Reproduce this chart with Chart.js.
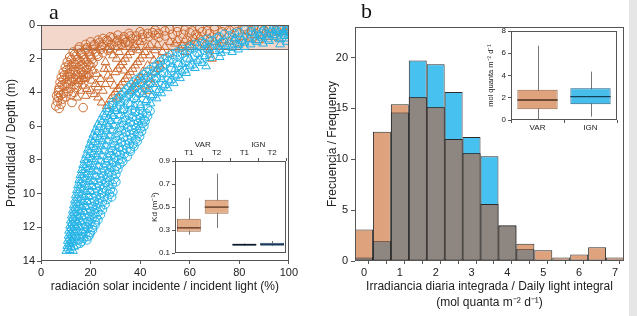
<!DOCTYPE html>
<html><head><meta charset="utf-8">
<script src="https://cdn.jsdelivr.net/npm/chart.js@4/dist/chart.umd.min.js"></script>
<style>
html,body{margin:0;padding:0;background:#fff;width:637px;height:316px;overflow:hidden;}
canvas{position:absolute;}
.lbl{position:absolute;font-family:'Liberation Serif','DejaVu Serif',serif;font-size:22px;color:#111;line-height:1;}
</style></head><body>
<canvas id="ca" width="300" height="316" style="left:0;top:0"></canvas>
<canvas id="cai" width="147" height="122" style="left:145px;top:138px"></canvas>
<canvas id="cb" width="310" height="316" style="left:320px;top:0"></canvas>
<canvas id="cbi" width="140" height="112" style="left:482px;top:24px"></canvas>
<div class="lbl" style="left:49px;top:1px">a</div>
<div class="lbl" style="left:361px;top:0px">b</div>
<div style="position:absolute;left:629px;top:0;width:8px;height:316px;background:#e6e6e6"></div>
<script>
// ---------- Panel a: light (%) vs depth (m) ----------
const bandDepth = 1.45;
const ignTri = [[10.2,13.4],[11.6,13.35],[12.9,13.4],[10.6,13.1],[11.9,13.0],[13.4,13.15],[10.8,12.8],[12.3,12.75],[14.1,12.85],[11.1,12.5],[12.7,12.45],[14.6,12.55],[11.3,12.2],[13.1,12.15],[15.2,12.25],[11.7,11.9],[13.5,11.85],[15.7,11.95],[12.0,11.6],[13.9,11.55],[16.3,11.65],[12.4,11.3],[14.5,11.25],[16.9,11.35],[12.8,11.0],[14.9,10.95],[17.5,11.05],[13.2,10.7],[15.4,10.65],[18.1,10.75],[13.7,10.4],[15.9,10.35],[18.7,10.45],[14.0,10.1],[16.4,10.05],[19.3,10.15],[14.5,9.8],[16.9,9.75],[20.0,9.85],[14.9,9.5],[17.5,9.45],[20.6,9.55],[15.4,9.2],[18.0,9.15],[21.1,9.25],[15.9,8.9],[18.6,8.85],[21.9,8.95],[16.4,8.6],[19.2,8.55],[22.4,8.65],[17.0,8.3],[19.7,8.25],[23.1,8.35],[17.5,8.0],[20.4,7.95],[23.9,8.05],[18.2,7.7],[21.1,7.65],[24.6,7.75],[18.9,7.4],[21.8,7.35],[25.4,7.45],[19.6,7.1],[22.6,7.05],[26.1,7.15],[20.3,6.8],[23.4,6.75],[26.9,6.85],[21.1,6.5],[24.3,6.45],[27.7,6.55],[22.0,6.2],[25.1,6.15],[28.6,6.25],[22.9,5.9],[26.1,5.85],[29.5,5.95],[24.0,5.6],[27.1,5.55],[30.6,5.65],[25.1,5.3],[28.3,5.25],[31.7,5.35],[26.5,5.0],[29.6,4.95],[33.0,5.05],
[36.0,4.7],[40.1,4.75],[44.2,4.65],[38.5,4.4],[42.6,4.45],[46.6,4.35],[41.1,4.1],[45.1,4.15],[48.6,4.05],[43.6,3.8],[47.6,3.85],[51.1,3.75],[46.1,3.5],[50.1,3.55],[53.6,3.45],[48.6,3.2],[52.6,3.25],[56.1,3.15],[51.1,2.9],[55.1,2.95],[58.6,2.85],[54.1,2.6],[58.1,2.65],[62.1,2.55],[66.6,2.45],[57.1,2.3],[61.1,2.35],[65.1,2.25],[60.1,2.0],[64.1,2.05],[68.1,1.95],[72.1,1.9],[63.6,1.7],[68.1,1.75],[72.6,1.65],[77.1,1.6],[67.1,1.4],[72.1,1.45],[77.1,1.35],[82.1,1.3],[72.1,1.1],[77.1,1.15],[82.1,1.05],[87.1,1.0],[92.1,0.95],[78.1,0.8],[84.1,0.85],[89.1,0.75],[94.1,0.7],[98.5,0.65],[86.1,0.5],[91.1,0.55],[95.6,0.45],[99.0,0.4],[93.1,0.3],[97.1,0.25],[99.5,0.2],[96.5,1.15],[99.3,1.0],[99.0,0.8],
[10.9,13.25],[12.2,13.2],[11.3,12.95],[12.8,12.9],[11.5,12.65],[13.3,12.6],[11.9,12.35],[13.8,12.3],[12.2,12.05],[14.4,12.0],[12.6,11.75],[14.8,11.7],[13.0,11.45],[15.4,11.4],[13.5,11.15],[16.0,11.1],[13.9,10.85],[16.5,10.8],[14.4,10.55],[17.1,10.5],[14.8,10.25],[17.6,10.2],[15.2,9.95],[18.2,9.9],[15.8,9.65],[18.8,9.6],[16.2,9.35],[19.4,9.3],[16.8,9.05],[20.0,9.0],[17.3,8.75],[20.5,8.7],[17.9,8.45],[21.2,8.4],[18.4,8.15],[21.8,8.1],[19.1,7.85],[22.5,7.8],[19.8,7.55],[23.3,7.5],[20.4,7.25],[24.0,7.2],[21.1,6.95],[24.7,6.9],[21.9,6.65],[25.6,6.6],[22.7,6.35],[26.3,6.3],[23.5,6.05],[27.2,6.0],[24.6,5.75],[28.1,5.7],[25.6,5.45],[29.1,5.4],[26.8,5.15],[30.2,5.1],
[38.0,4.85],[42.3,4.55],[44.6,4.25],[46.9,4.0],[49.3,3.65],[51.8,3.35],[54.3,3.05],[56.8,2.75],[60.1,2.45],[63.1,2.15],[66.1,1.85],[70.3,1.55],[74.6,1.5],[79.6,1.45],[74.6,1.25],[79.6,1.2],[84.6,1.15],[89.6,1.1],[81.1,0.95],[86.6,0.9],[91.6,0.85],[96.3,0.85],[88.6,0.65],[93.6,0.6],[97.5,0.5],[95.1,0.35],[99.0,0.3]];
const ignCirc = [[14.5,13.0],[15.8,12.95],[15.5,12.7],[17.2,12.65],[18.5,12.75],[16.3,12.4],[18.0,12.35],[19.6,12.45],[17.0,12.1],[19.0,12.05],[20.8,12.15],[17.6,11.8],[19.8,11.75],[21.8,11.85],[18.3,11.5],[20.6,11.45],[23.0,11.55],[18.9,11.2],[21.4,11.15],[24.0,11.25],[19.6,10.9],[22.2,10.85],[24.8,10.95],[20.3,10.6],[23.0,10.55],[25.8,10.65],[21.0,10.3],[23.8,10.25],[26.7,10.35],[21.7,10.0],[24.6,9.95],[27.6,10.05],[29.0,9.9],[22.4,9.7],[25.3,9.65],[28.0,9.75],[23.0,9.4],[26.0,9.35],[28.8,9.45],[30.2,9.3],[23.8,9.1],[26.7,9.05],[29.5,9.15],[24.5,8.8],[27.4,8.75],[30.2,8.85],[25.3,8.5],[28.2,8.45],[31.0,8.55],[26.0,8.2],[29.0,8.15],[31.8,8.25],[33.0,8.1],[26.8,7.9],[29.8,7.85],[32.6,7.95],[27.6,7.6],[30.6,7.55],[33.6,7.65],[36.0,7.5],[28.4,7.3],[31.5,7.25],[34.6,7.35],[37.5,7.2],[29.2,7.0],[32.4,6.95],[35.6,7.05],[38.8,6.9],[30.0,6.7],[33.3,6.65],[36.6,6.75],[39.8,6.6],[30.8,6.4],[34.2,6.35],[37.5,6.45],[40.6,6.3],[31.8,6.1],[35.0,6.05],[38.4,6.15],[41.5,6.0],[32.8,5.8],[36.0,5.75],[39.2,5.85],[42.0,5.7],[33.8,5.5],[37.0,5.45],[40.0,5.55],[43.0,5.4],[35.0,5.2],[38.0,5.15],[41.0,5.25],[44.0,5.1],
[27.5,4.9],[30.5,4.85],[33.5,4.95],[29.0,4.6],[32.0,4.55],[35.0,4.65],[31.5,4.3],[34.5,4.25],[37.5,4.35],[33.5,4.0],[36.5,3.95],[39.5,4.05],[35.5,3.7],[38.5,3.65],[42.0,3.75],[37.5,3.4],[40.5,3.35],[44.0,3.45],[40.0,3.1],[43.0,3.05],[46.5,3.15],[42.5,2.8],[46.0,2.75],[49.5,2.85],[45.5,2.5],[49.0,2.45],[52.5,2.55],[48.0,2.2],[51.5,2.15],[55.0,2.25],[51.0,1.9],[55.0,1.85],[59.0,1.95],[55.0,1.6],[59.0,1.55],[63.0,1.65],[60.0,1.3],[64.0,1.25],[68.0,1.35],[65.0,1.0],[69.0,0.95],[73.0,1.05],[77.0,0.9],[72.0,0.7],[76.0,0.65],[80.0,0.75],[80.0,0.45],[84.5,0.4],[89.0,0.5],[88.0,0.2],[92.0,0.15],[96.0,0.25],[99.5,0.1],
[48.5,3.0],[46.0,3.3],[43.5,3.6],[41.0,3.9],[38.5,4.2],[52.5,2.7],[55.5,2.4],[58.5,2.1],[62.0,1.8],[66.0,1.5],[70.5,1.2],[81.0,0.9],[85.0,0.6],[93.0,0.45],[95.0,0.65],[97.5,0.55],
[16.3,12.85],[16.7,12.55],[19.0,12.55],[17.3,12.25],[19.9,12.3],[18.2,11.95],[20.8,12.0],[19.0,11.65],[21.9,11.7],[19.6,11.35],[22.3,11.4],[20.1,11.05],[23.0,11.1],[21.0,10.75],[24.0,10.8],[21.6,10.45],[24.8,10.5],[22.3,10.15],[25.6,10.2],[28.5,10.2],[23.0,9.85],[26.5,9.8],[23.7,9.55],[27.1,9.5],[24.4,9.25],[27.8,9.2],[25.2,8.95],[28.6,8.9],[25.8,8.65],[29.7,8.6],[26.6,8.35],[30.4,8.4],[27.3,8.05],[31.2,8.0],[28.2,7.75],[31.9,7.7],[34.8,7.8],[29.0,7.45],[33.0,7.4],[36.1,7.35],[29.8,7.15],[34.0,7.1],[37.2,7.05],[30.7,6.85],[34.9,6.8],[38.2,6.8],[31.5,6.55],[35.9,6.5],[39.2,6.45],[32.4,6.25],[36.6,6.2],[40.0,6.15],[33.4,5.95],[37.5,5.9],[40.8,5.85],[34.3,5.65],[38.5,5.6],[41.5,5.6],[35.5,5.35],[39.5,5.3],[42.5,5.25],[36.5,5.05],[40.0,5.0],[43.0,4.95],
[29.0,4.75],[32.0,4.75],[30.5,4.45],[33.5,4.4],[32.5,4.15],[35.5,4.1],[34.5,3.85],[37.5,3.8],[36.5,3.55],[40.0,3.5],[38.5,3.25],[42.0,3.2],[41.5,2.95],[44.8,2.9],[44.0,2.65],[47.5,2.6],[46.8,2.35],[50.2,2.3],[49.5,2.05],[53.2,2.0],[53.0,1.75],[57.0,1.7],[57.0,1.45],[61.0,1.4],[62.0,1.15],[66.0,1.1],[67.0,0.85],[71.0,0.8],[74.0,0.55],[78.0,0.5],[82.5,0.3],[86.5,0.3],[90.0,0.35],[94.0,0.1]];
const varCirc = [[6.0,4.8],[6.6,4.55],[7.3,4.95],[8.1,4.7],[7.0,4.3],[8.7,4.4],[17.0,4.9],[12.5,4.6],
[7.0,4.0],[9.1,4.05],[11.0,3.95],[13.4,4.0],[7.4,3.7],[9.6,3.65],[12.0,3.75],[14.5,3.7],[7.7,3.4],[10.1,3.45],[12.5,3.35],[15.1,3.4],
[8.2,3.1],[10.6,3.05],[13.0,3.15],[15.5,3.1],[18.0,3.05],[9.0,2.8],[11.5,2.85],[14.0,2.75],[16.5,2.8],[19.0,2.85],
[9.8,2.5],[12.3,2.45],[15.0,2.55],[17.5,2.5],[20.1,2.45],[10.6,2.2],[13.1,2.25],[15.8,2.15],[18.5,2.2],[21.0,2.25],
[11.6,1.9],[14.1,1.85],[17.0,1.95],[20.0,1.9],[23.0,1.85],[13.0,1.6],[16.0,1.65],[19.0,1.55],[22.0,1.6],[25.0,1.65],
[15.5,1.3],[18.5,1.35],[21.5,1.25],[24.5,1.3],[27.5,1.35],[31.0,1.25],[20.0,1.0],[23.5,1.05],[27.0,0.95],[30.5,1.0],[34.0,1.05],
[25.0,0.8],[29.0,0.75],[33.0,0.85],[37.0,0.8],[41.0,0.75],[31.0,0.6],[36.0,0.65],[41.0,0.55],[46.0,0.6],[50.0,0.65],
[40.0,0.4],[45.0,0.45],[50.0,0.35],[55.0,0.4],[60.0,0.45],[65.0,0.4],[52.0,0.25],[58.0,0.3],[64.0,0.2],[70.0,0.25],[76.0,0.3],[82.0,0.25],
[70.0,0.1],[78.0,0.15],[86.0,0.05],[92.0,0.1],[97.0,0.15],[100,0.05],
[6.3,4.2],[8.0,4.15],[10.0,4.25],[12.2,4.15],[7.2,3.85],[8.5,3.55],[11.0,3.55],[13.5,3.55],[9.0,3.25],[11.5,3.25],[14.0,3.25],[16.5,3.25],[9.5,2.95],[12.0,2.95],[14.5,2.95],[17.2,2.95],[10.5,2.65],[13.2,2.65],[15.8,2.65],[18.4,2.65],[11.3,2.35],[14.0,2.35],[16.6,2.35],[19.3,2.35],[12.2,2.05],[14.8,2.05],[17.6,2.05],[20.5,2.05],[13.5,1.75],[16.5,1.75],[19.5,1.75],[22.5,1.75],[15.0,1.45],[18.0,1.45],[21.0,1.45],[24.0,1.45],[27.0,1.5],[18.0,1.15],[21.5,1.15],[25.0,1.15],[28.5,1.15],[32.5,1.15],[23.0,0.9],[26.5,0.9],[31.0,0.9],[35.0,0.95],[39.0,0.9],[28.0,0.7],[33.5,0.7],[38.5,0.65],[43.5,0.7],[47.5,0.75],[35.5,0.5],[43.0,0.5],[47.5,0.5],[53.0,0.55],[57.5,0.55],[62.5,0.55],[68.0,0.5],[46.0,0.3],[55.0,0.15],[61.0,0.35],[67.0,0.35],[73.0,0.4],[79.0,0.4],[85.0,0.35],[90.0,0.3],[95.0,0.3],[74.0,0.05],[82.0,0.1],[89.0,0.2],[99.0,0.25]];
const varTri = [[26.5,4.8],[23.0,4.3],[20.0,3.9],[17.0,3.6],[15.0,3.3],[22.0,3.5],[25.0,3.9],[19.0,3.0],[24.0,3.2],[21.0,2.7],[27.0,3.0],[18.0,4.2],[14.5,4.3],
[28.0,4.4],[30.0,4.0],[32.0,3.6],[34.0,3.2],[36.0,2.8],[38.0,2.4],[40.0,2.0],[42.0,1.6],[30.0,2.8],[32.0,2.4],[34.0,2.0],[36.0,1.6],[38.0,1.2],[28.0,3.2],[26.0,2.2],[29.0,1.8],[33.0,1.3],[40.0,1.0],[44.0,1.2],[36.0,3.9],[38.0,3.5],[40.0,3.1],[31.0,4.3],[33.5,2.7],[29.5,3.6],
[42.0,3.6],[44.0,3.2],[46.0,2.8],[48.0,2.4],[41.0,4.1],[45.5,2.1],
[46.0,1.5],[50.0,1.3],[54.0,1.1],[58.0,0.9],[52.0,1.7],[48.0,2.0],[56.0,1.4],[60.0,1.2],[62.0,0.8],[69.0,2.0],
[66.0,1.2],[70.0,1.0],[74.0,0.9],[78.0,0.8],[82.0,0.7],[86.0,0.6],[90.0,0.5],[94.0,0.45],[98.0,0.4],[100,0.3],[72.0,1.3],[80.0,1.1],[88,0.9],[96,0.8],
[24.5,4.6],[21.5,4.1],[18.5,3.8],[16.0,3.9],[20.5,3.3],[23.0,3.7],[26.0,3.5],[22.5,2.9],[25.5,2.6],[17.5,3.2],[29.0,4.2],[31.0,3.8],[33.0,3.4],[35.0,3.0],[37.0,2.6],[39.0,2.2],[41.0,1.8],[31.0,2.6],[33.0,2.2],[35.0,1.8],[37.0,1.4],[27.0,2.6],[30.5,2.0],[28.0,1.5],[31.5,1.6],[35.5,1.1],[39.0,1.5],[42.5,1.3],[37.0,3.7],[39.0,3.3],[41.0,2.8],[43.0,2.4],[43.0,3.9],[45.0,3.5],[47.0,2.6],[44.0,1.8],[47.0,1.2],[49.0,1.6],[52.0,1.0],[55.0,0.9],[57.0,1.2],[60.0,1.0],[63.0,1.05],[64.0,0.7],[68.0,0.8],[72.0,0.75],[76.0,1.0],[84.0,0.8],[92.0,0.7],[68.0,1.5],[58.0,1.6]];

// inset a: Kd box plots
const kdLabels = ['T1','T2','T1','T2'];
const kdGroups = ['VAR','IGN'];
const kdMin = [0.26, 0.32, 0.165, 0.165];
const kdQ1  = [0.286, 0.442, 0.164, 0.164];
const kdMed = [0.32, 0.50, 0.175, 0.177];
const kdQ3  = [0.40, 0.564, 0.183, 0.19];
const kdMax = [0.58, 0.79, 0.183, 0.206];

// ---------- Panel b: histogram ----------
const binCenters  = [0,0.5,1,1.5,2,2.5,3,3.5,4,4.5,5,5.5,6,6.5,7];
const varFreq     = [3.1,12.7,15.4,16.1,15.1,12.0,10.6,5.6,3.5,1.7,1.05,0.35,0.65,1.35,0.35];
const ignFreq     = [0.35,1.95,14.6,19.7,19.35,16.6,12.2,10.3,3.5,1.15,0,0,0,0,0];
const overlapFreq = [0.35,1.95,14.6,16.1,15.1,12.0,10.6,5.6,3.5,1.15,0,0,0,0,0];
const freqTicks   = [0,5,10,15,20];

// inset b: DLI box plots
const dliLabels = ['VAR','IGN'];
const dliMin = [0, 0.3];
const dliQ1  = [0.96, 1.41];
const dliMed = [1.8, 2.1];
const dliQ3  = [2.73, 2.85];
const dliMax = [6.67, 4.35];

// ---------- styles ----------
const FONT = "'Liberation Sans', Arial, Helvetica, sans-serif";
Chart.defaults.font.family = FONT;
Chart.defaults.color = '#222';
const ORANGE_PT = '#cd6b30', CYAN_PT = '#25b3e6';
const AXIS = '#555';

const framePlugin = {
  id:'frame',
  afterDatasetsDraw(chart){
    const a = chart.chartArea, ctx = chart.ctx;
    ctx.save(); ctx.strokeStyle = AXIS; ctx.lineWidth = 1;
    ctx.strokeRect(Math.round(a.left)+0.5, Math.round(a.top)+0.5, Math.round(a.right-a.left)-1, Math.round(a.bottom-a.top)-1);
    ctx.restore();
  }
};
const bandPlugin = {
  id:'band',
  beforeDatasetsDraw(chart){
    const a = chart.chartArea, ctx = chart.ctx, y = chart.scales.y;
    const y0 = y.getPixelForValue(0), y1 = y.getPixelForValue(bandDepth);
    ctx.save();
    ctx.fillStyle = '#f3d7cb';
    ctx.fillRect(a.left, y0, a.right-a.left, y1-y0);
    ctx.strokeStyle = '#7d6f6a'; ctx.lineWidth = 1;
    ctx.beginPath(); ctx.moveTo(a.left, Math.round(y1)+0.5); ctx.lineTo(a.right, Math.round(y1)+0.5); ctx.stroke();
    ctx.restore();
  }
};
function boxPlugin(mins, meds, maxs, whiskerColor, medColor){
  return {
    id:'boxw',
    beforeDatasetsDraw(chart){
      const meta = chart.getDatasetMeta(0), y = chart.scales.y, ctx = chart.ctx;
      ctx.save(); ctx.strokeStyle = whiskerColor; ctx.lineWidth = 1;
      meta.data.forEach((el,i)=>{
        const x = Math.round(el.x)+0.5;
        ctx.beginPath(); ctx.moveTo(x, y.getPixelForValue(mins[i])); ctx.lineTo(x, y.getPixelForValue(maxs[i])); ctx.stroke();
      });
      ctx.restore();
    },
    afterDatasetsDraw(chart){
      const meta = chart.getDatasetMeta(0), y = chart.scales.y, ctx = chart.ctx;
      ctx.save(); ctx.lineWidth = 1.3;
      meta.data.forEach((el,i)=>{
        ctx.strokeStyle = Array.isArray(medColor) ? medColor[i] : medColor;
        const yy = y.getPixelForValue(meds[i]);
        ctx.beginPath(); ctx.moveTo(el.x - el.width/2, yy); ctx.lineTo(el.x + el.width/2, yy); ctx.stroke();
      });
      ctx.restore();
    }
  };
}
const common = {responsive:false, devicePixelRatio:1, animation:false, events:[],
  plugins:{legend:{display:false}, tooltip:{enabled:false}}};
const pts = arr => arr.map(p=>({x:p[0], y:p[1]}));

// ---------- chart a ----------
new Chart(document.getElementById('ca'), {
  type:'scatter',
  data:{datasets:[
    {data:pts(ignCirc), pointStyle:'circle', pointRadius:4.3, borderColor:CYAN_PT, backgroundColor:'rgba(0,0,0,0)', borderWidth:1},
    {data:pts(ignTri), pointStyle:'triangle', pointRadius:5, borderColor:CYAN_PT, backgroundColor:'rgba(0,0,0,0)', borderWidth:1},
    {data:pts(varCirc), pointStyle:'circle', pointRadius:4.3, borderColor:ORANGE_PT, backgroundColor:'rgba(0,0,0,0)', borderWidth:1},
    {data:pts(varTri), pointStyle:'triangle', pointRadius:5, borderColor:ORANGE_PT, backgroundColor:'rgba(0,0,0,0)', borderWidth:1}
  ]},
  options:Object.assign({}, common, {
    layout:{padding:{top:25,right:9,left:0,bottom:0}},
    scales:{
      x:{type:'linear', min:0, max:100,
        ticks:{stepSize:20, font:{size:11}, color:'#222', padding:2, maxRotation:0},
        grid:{drawOnChartArea:false, tickLength:3, color:AXIS}, border:{display:false},
        title:{display:true, text:'radiación solar incidente / incident light (%)', font:{size:12}, color:'#222', padding:{top:0,bottom:22}},
        afterFit:s=>{s.height=55;}},
      y:{type:'linear', reverse:true, min:0, max:14,
        ticks:{stepSize:2, font:{size:11}, color:'#222', padding:2},
        grid:{drawOnChartArea:false, tickLength:4, color:AXIS}, border:{display:false},
        title:{display:true, text:'Profundidad / Depth (m)', font:{size:12}, color:'#222', padding:{top:4,bottom:0}},
        afterFit:s=>{s.width=41;}}
    }
  }),
  plugins:[bandPlugin, framePlugin]
});

// ---------- inset a ----------
new Chart(document.getElementById('cai'), {
  type:'bar',
  data:{labels:kdLabels, datasets:[{
    data:kdQ1.map((v,i)=>[v,kdQ3[i]]),
    backgroundColor:['#e3ad88','#e3ad88','#1d3856','#82b3dc'],
    borderColor:['#9c6a4a','#9c6a4a','#14263c','#2d4d70'],
    borderWidth:1, borderSkipped:false, barPercentage:0.86, categoryPercentage:1
  }]},
  options:Object.assign({}, common, {
    layout:{padding:{top:0,right:6,left:0,bottom:3}},
    scales:{
      x:{type:'category', position:'top', offset:true,
        ticks:{font:{size:8}, color:'#222', padding:0, maxRotation:0},
        grid:{offset:true, drawOnChartArea:false, tickLength:3, color:AXIS}, border:{display:false},
        afterFit:s=>{s.height=11;}},
      xg:{type:'category', position:'top', labels:kdGroups, offset:true,
        ticks:{font:{size:8}, color:'#222', padding:0, maxRotation:0},
        grid:{display:false, drawTicks:false}, border:{display:false},
        afterFit:s=>{s.height=12;}},
      y:{type:'linear', min:0.1, max:0.9,
        ticks:{stepSize:0.2, font:{size:8}, color:'#222', padding:2, callback:v=>v.toFixed(1)},
        grid:{drawOnChartArea:false, tickLength:3, color:AXIS}, border:{display:false},
        title:{display:true, text:'Kd (m⁻¹)', font:{size:8}, color:'#222', padding:{top:5,bottom:0}},
        afterFit:s=>{s.width=30;}}
    }
  }),
  plugins:[boxPlugin(kdMin, kdMed, kdMax, '#777', ['#5b3420','#5b3420','#0d1a2a','#1d3856']), framePlugin]
});

// ---------- chart b ----------
const edgeTicks = [];
binCenters.forEach(c=>{ edgeTicks.push(c-0.25); edgeTicks.push(c); });
edgeTicks.push(binCenters[binCenters.length-1]+0.25);
const isEdge = v => Math.abs((v*4) % 2) > 0.5;
const barDs = (vals, color) => ({
  data:binCenters.map((c,i)=>({x:c, y:vals[i]})),
  backgroundColor:color, borderColor:'#2b2b2b', borderWidth:1, borderSkipped:false,
  barPercentage:2, categoryPercentage:1, grouped:false
});
new Chart(document.getElementById('cb'), {
  type:'bar',
  data:{datasets:[
    barDs(overlapFreq, '#8d8681'),
    barDs(varFreq, '#dea27d'),
    barDs(ignFreq, '#47c1ef')
  ]},
  options:Object.assign({}, common, {
    layout:{padding:{top:27,right:6,left:0,bottom:0}},
    scales:{
      x:{type:'linear', min:-0.25, max:7.25, offset:false,
        afterBuildTicks:s=>{ s.ticks = edgeTicks.map(v=>({value:v})); },
        ticks:{autoSkip:false, font:{size:11}, color:'#222', padding:2, maxRotation:0,
          callback:v=> (Number.isInteger(v) ? String(v) : '')},
        grid:{drawOnChartArea:false, tickLength:3, color:c=> (c.tick && isEdge(c.tick.value)) ? AXIS : 'rgba(0,0,0,0)'},
        border:{display:false},
        title:{display:true, text:['Irradiancia diaria integrada / Daily light integral','(mol quanta m⁻² d⁻¹)'], font:{size:12, lineHeight:1.33}, color:'#222', padding:{top:0,bottom:5}},
        afterFit:s=>{s.height=55;}},
      y:{type:'linear', min:0, max:23,
        afterBuildTicks:s=>{ s.ticks = freqTicks.map(v=>({value:v})); },
        ticks:{font:{size:11}, color:'#222', padding:3},
        grid:{drawOnChartArea:false, tickLength:4, color:AXIS}, border:{display:false},
        title:{display:true, text:'Frecuencia / Frequency', font:{size:12}, color:'#222', padding:{top:5,bottom:0}},
        afterFit:s=>{s.width=35;}}
    }
  }),
  plugins:[framePlugin]
});

// ---------- inset b ----------
new Chart(document.getElementById('cbi'), {
  type:'bar',
  data:{labels:dliLabels, datasets:[{
    data:dliQ1.map((v,i)=>[v,dliQ3[i]]),
    backgroundColor:['#dea27d','#47bdeb'],
    borderColor:['#8e6346','#1f5f7f'],
    borderWidth:1, borderSkipped:false, barPercentage:0.76, categoryPercentage:1
  }]},
  options:Object.assign({}, common, {
    layout:{padding:{top:7,right:5,left:0,bottom:0}},
    scales:{
      x:{type:'category', position:'bottom', offset:true,
        ticks:{font:{size:8}, color:'#222', padding:0, maxRotation:0},
        grid:{offset:true, drawOnChartArea:false, tickLength:3, color:AXIS}, border:{display:false},
        afterFit:s=>{s.height=16;}},
      y:{type:'linear', min:0, max:8,
        ticks:{stepSize:2, font:{size:8}, color:'#222', padding:2},
        grid:{drawOnChartArea:false, tickLength:3, color:AXIS}, border:{display:false},
        title:{display:true, text:'mol quanta m⁻² d⁻¹', font:{size:7.5}, color:'#222', padding:{top:4,bottom:0}},
        afterFit:s=>{s.width=29;}}
    }
  }),
  plugins:[boxPlugin(dliMin, dliMed, dliMax, '#777', ['#4a2e1e','#14405a']), framePlugin]
});
</script>
</body></html>
